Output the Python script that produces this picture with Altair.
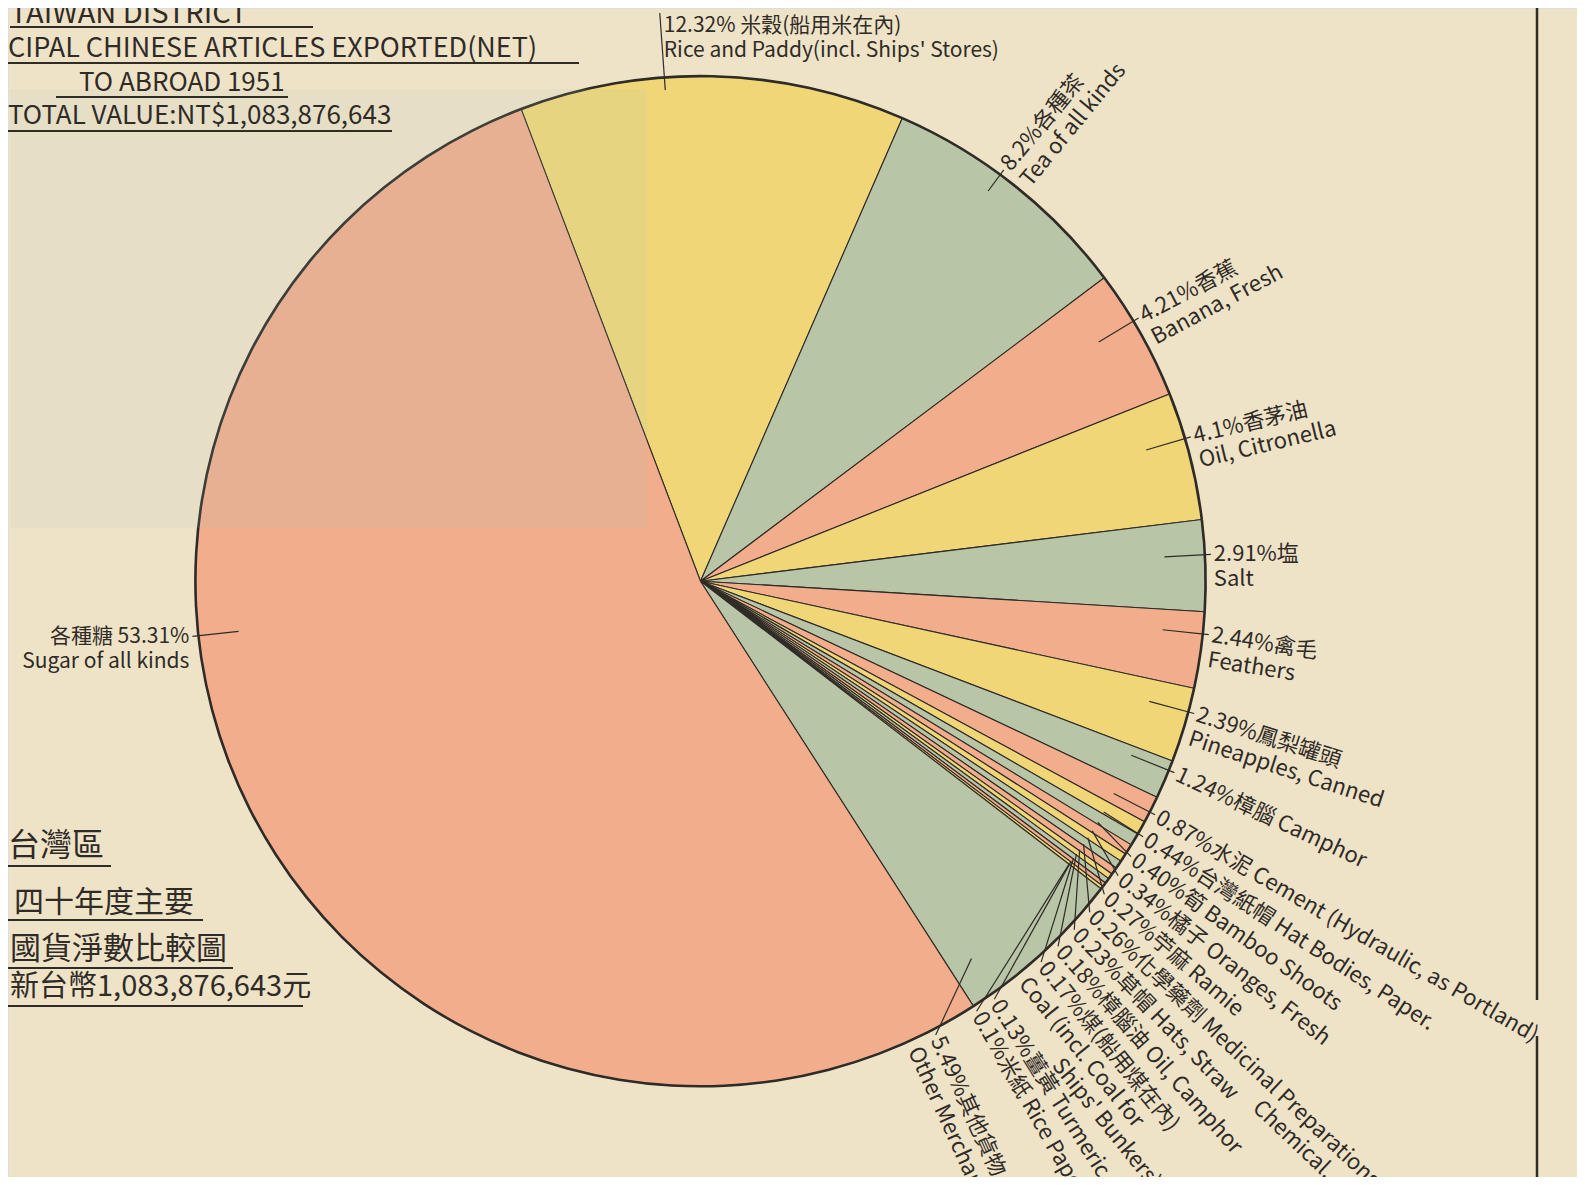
import math
import altair as alt
import pandas as pd

# ---------------- data ----------------
items_en = [
    "Rice and Paddy(incl. Ships' Stores)", "Tea of all kinds", "Banana, Fresh",
    "Oil, Citronella", "Salt", "Feathers", "Pineapples, Canned", "Camphor",
    "Cement (Hydraulic, as Portland)", "Hat Bodies, Paper.", "Bamboo Shoots",
    "Oranges, Fresh", "Ramie", "Medicinal Preparations, Chemical.", "Hats, Straw",
    "Oil, Camphor", "Coal (incl. Coal for Ships' Bunkers)", "Turmeric", "Rice Paper",
    "Other Merchandise", "Sugar of all kinds",
]
items_zh = [
    "米穀(船用米在內)", "各種茶", "香蕉", "香茅油", "塩", "禽毛", "鳳梨罐頭", "樟腦",
    "水泥", "台灣紙帽", "筍", "橘子", "苧麻", "化學藥劑", "草帽", "樟腦油",
    "煤(船用煤在內)", "薑黃", "米紙", "其他貨物", "各種糖",
]
share = [12.32, 8.2, 4.21, 4.1, 2.91, 2.44, 2.39, 1.24, 0.87, 0.44, 0.40, 0.34,
         0.27, 0.26, 0.23, 0.18, 0.17, 0.13, 0.10, 5.49, 53.31]
share_text = ["12.32", "8.2", "4.21", "4.1", "2.91", "2.44", "2.39", "1.24", "0.87",
              "0.44", "0.40", "0.34", "0.27", "0.26", "0.23", "0.18", "0.17", "0.13",
              "0.1", "5.49", "53.31"]

title_en = ["TAIWAN DISTRICT", "CIPAL CHINESE ARTICLES EXPORTED(NET)",
            "TO ABROAD 1951", "TOTAL VALUE:NT$1,083,876,643"]
title_zh = ["台灣區", "四十年度主要", "國貨淨數比較圖", "新台幣1,083,876,643元"]

# ---------------- layout / style ----------------
W, H = 1569, 1169
CX, CY, R = 692.5, 573.2, 505.0
START_DEG = -20.8
FONT = "Noto Sans CJK TC"
INK = "#2f2b27"
BG = "#efe3c7"
PALETTE = ["#f1d677", "#b8c5a7", "#f2ae8c"]
FS, FS_FAN, LH = 21, 22, 25

# label anchor angles (degrees clockwise from 12 o'clock)
label_deg = [-4.1, 36.4, 59.0, 73.6, 87.0, 96.0, 105.0, 112.0, 117.2, 120.0,
             122.6, 125.2, 127.8, 130.4, 133.0, 135.6, 138.2, 144.9, 147.3, 152.6, 263.8]
same_line = {7, 8, 9, 10, 11, 12, 13, 14, 15, 17, 18}
split = {13: ("Medicinal Preparations", "Chemical.", 250, 1),
         16: ("Coal (incl. Coal for", "Ships' Bunkers)", 84, 2)}

n = len(share)
total = sum(share)
colors = [PALETTE[i % 3] for i in range(n)]


def uv(deg, r):
    a = math.radians(deg)
    return r * math.sin(a), r * math.cos(a)


lead_rows, lab_rows, cont_rows = [], [], []
cum = 0.0
for i in range(n):
    a0 = START_DEG + 360 * cum / total
    cum += share[i]
    a1 = START_DEG + 360 * cum / total
    w = a1 - a0
    la = label_deg[i]
    ia = min(max(la, a0 + 0.15 * w), a1 - 0.15 * w)
    r_in, r_out = 0.92, 1.012
    if i == 0:
        r_in, r_out = 0.975, 1.128
    elif i == 1:
        r_in = 0.96
    u1, v1 = uv(ia, r_in)
    u2, v2 = uv(la, r_out)
    lead_rows.append(dict(u1=u1, v1=v1, u2=u2, v2=v2))

    en = items_en[i]
    cont = None
    if i in split:
        en, ctext, along, k = split[i]
        cont = (ctext, along, k)
    p = share_text[i] + "%"
    if i == n - 1:
        txt = f"{items_zh[i]} {p}\n{en}"
        kind = "right"
    elif i == 0:
        txt = f"{p} {items_zh[i]}\n{en}"
        kind = "top"
    elif i in same_line:
        txt = f"{p}{items_zh[i]} {en}"
        kind = "radial"
    else:
        txt = f"{p}{items_zh[i]}\n{en}"
        kind = "radial"
    tang = (la - 90 + 3) % 360 if kind == "radial" else 0
    lab_rows.append(dict(u=u2, v=v2, text=txt, tang=tang, kind=kind))
    if cont:
        ctext, along, k = cont
        al = math.radians(la - 90 + 3)
        cu = u2 + (along * math.cos(al) - k * LH * math.sin(al)) / R
        cv = v2 + (-along * math.sin(al) - k * LH * math.cos(al)) / R
        cont_rows.append(dict(u=cu, v=cv, text=ctext, tang=tang))

pie_df = pd.DataFrame({"idx": list(range(n)), "name": items_en, "share": share})
lead_df = pd.DataFrame(lead_rows)
lab_df = pd.DataFrame(lab_rows)
cont_df = pd.DataFrame(cont_rows)

xs = alt.Scale(domain=[-CX / R, (W - CX) / R], nice=False, zero=False)
ys = alt.Scale(domain=[(CY - H) / R, CY / R], nice=False, zero=False)
theta_scale = alt.Scale(range=[math.radians(START_DEG) + 2 * math.pi,
                               math.radians(START_DEG) + 4 * math.pi])

base = alt.Chart(pie_df)
pie = base.mark_arc(outerRadius=R, stroke=INK, strokeWidth=1.1).encode(
    theta=alt.Theta("share:Q", stack=True, scale=theta_scale),
    order=alt.Order("idx:Q"),
    color=alt.Color("name:N", scale=alt.Scale(domain=items_en, range=colors), legend=None),
    x=alt.value(CX), y=alt.value(CY),
)
ring = base.mark_arc(outerRadius=R + 1.4, innerRadius=R - 1.2, color=INK).encode(
    theta=alt.Theta("share:Q", stack=True, scale=theta_scale),
    order=alt.Order("idx:Q"),
    x=alt.value(CX), y=alt.value(CY),
)

# faint show-through of the sheet behind (paper tint)
tint = alt.Chart(pd.DataFrame({"k": [0]})).mark_rect(color="#a3c4c4", opacity=0.12).encode(
    x=alt.value(2), x2=alt.value(639), y=alt.value(81), y2=alt.value(520))

leaders = alt.Chart(lead_df).mark_rule(color=INK, strokeWidth=1.2).encode(
    x=alt.X("u1:Q", scale=xs, axis=None),
    y=alt.Y("v1:Q", scale=ys, axis=None),
    x2="u2:Q", y2="v2:Q",
)


def label_layer(df, align, dx, dy, size):
    return alt.Chart(df).mark_text(
        align=align, baseline="top", dx=dx, dy=dy, font=FONT, fontSize=size,
        lineBreak="\n", lineHeight=LH, color=INK,
    ).encode(
        x=alt.X("u:Q", scale=xs, axis=None),
        y=alt.Y("v:Q", scale=ys, axis=None),
        text="text:N",
        angle=alt.Angle("tang:Q", scale=None),
    )


lab_radial = label_layer(lab_df[lab_df.kind == "radial"], "left", 3, -10, FS_FAN)
lab_top = label_layer(lab_df[lab_df.kind == "top"], "left", 4, 2, FS)
lab_right = label_layer(lab_df[lab_df.kind == "right"], "right", -3, -10, FS)
lab_cont = label_layer(cont_df, "left", 3, -10, FS_FAN)


def note(text, x, y, size):
    return alt.Chart(pd.DataFrame({"t": [text]})).mark_text(
        align="left", baseline="alphabetic", font=FONT, fontSize=size, color=INK
    ).encode(text="t:N", x=alt.value(x), y=alt.value(y))


def hline(x1, x2, y, w=2.0):
    return alt.Chart(pd.DataFrame({"k": [0]})).mark_rule(color=INK, strokeWidth=w).encode(
        x=alt.value(x1), x2=alt.value(x2), y=alt.value(y))


def vline(x, y1, y2, w=2.5):
    return alt.Chart(pd.DataFrame({"k": [0]})).mark_rule(color=INK, strokeWidth=w).encode(
        x=alt.value(x), y=alt.value(y1), y2=alt.value(y2))


notes = [
    note(title_en[0], 2, 15, 29), hline(2, 305, 19),
    note(title_en[1], 0, 49, 27), hline(0, 571, 55),
    note(title_en[2], 71, 83, 26), hline(48, 280, 89),
    note(title_en[3], 0, 116, 26), hline(0, 384, 123),
    note(title_zh[0], 0, 848, 32), hline(0, 103, 858),
    note(title_zh[1], 6, 904, 30), hline(0, 195, 912),
    note(title_zh[2], 2, 951, 31), hline(0, 225, 960),
    note(title_zh[3], 2, 988, 29), hline(0, 295, 998),
    vline(1529, 0, 992), vline(1529, 1028, H),
]

chart = alt.layer(
    pie, ring, tint, leaders, lab_radial, lab_top, lab_right, lab_cont, *notes
).properties(
    width=W, height=H, padding=0, autosize=alt.AutoSizeParams(type="none")
).configure_view(stroke=None).configure(background=BG)

chart.save("out.html", embed_options={"renderer": "svg", "actions": False})
